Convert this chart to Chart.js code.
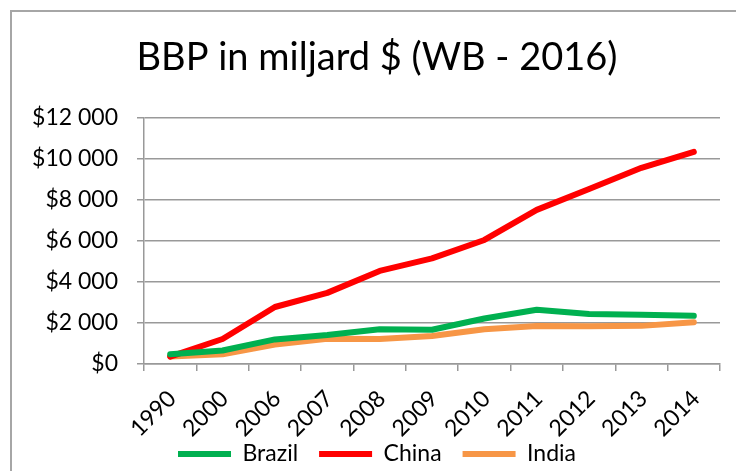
<!DOCTYPE html>
<html>
<head>
<meta charset="utf-8">
<script src="https://cdn.jsdelivr.net/npm/chart.js@4/dist/chart.umd.min.js"></script>
<style>
    html, body { margin: 0; padding: 0; background: #fff; }
    #wrap { position: relative; width: 736px; height: 471px; overflow: hidden; }
    #frame {
        position: absolute; left: 10px; top: 10px; width: 800px; height: 500px;
        border-left: 2px solid #a6a6a6; border-top: 2px solid #a6a6a6;
    }
    #myChart { position: absolute; left: 0; top: 0; }
</style>
</head>
<body>
<div id="wrap">
    <div id="frame"></div>
    <canvas id="myChart" width="736" height="471"></canvas>
</div>
<script>

const years = ['1990', '2000', '2006', '2007', '2008', '2009', '2010', '2011', '2012', '2013', '2014'];
const brazil = [470, 660, 1200, 1410, 1690, 1670, 2220, 2650, 2440, 2400, 2350];
const china = [360, 1220, 2780, 3470, 4540, 5150, 6050, 7520, 8540, 9570, 10350];
const india = [370, 470, 950, 1230, 1220, 1370, 1700, 1850, 1840, 1860, 2040];
const yTicks = [0, 2000, 4000, 6000, 8000, 10000, 12000];

const FONT = 'Lato';
const PAD_LEFT = 34;

function money(v) {
    // $12 000 style
    return '$' + String(v).replace(/\B(?=(\d{3})+(?!\d))/g, ' ');
}

function makeSet(label, data, color) {
    return {
        label: label,
        data: data,
        borderColor: color,
        backgroundColor: color,
        borderWidth: 6,
        pointRadius: 0,
        tension: 0,
        borderCapStyle: 'round',
        borderJoinStyle: 'round'
    };
}

// tick labels may spill outside their scale box, don't clip them
function noLabelClip(scale) {
    scale._computeLabelArea = () => undefined;
}

const ctx = document.getElementById('myChart');

new Chart(ctx, {
    type: 'line',
    data: {
        labels: years,
        datasets: [
            makeSet('Brazil', brazil, '#00b050'),
            makeSet('China', china, '#ff0000'),
            makeSet('India', india, '#f79646')
        ]
    },
    options: {
        responsive: false,
        animation: false,
        layout: { padding: { left: PAD_LEFT, right: 16, top: 0, bottom: -4.5 } },
        plugins: {
            title: {
                display: true,
                text: 'BBP in miljard $ (WB - 2016)',
                color: '#000',
                font: { family: FONT, size: 38, weight: 'normal' },
                padding: { top: 35, bottom: 37.4 }
            },
            legend: {
                position: 'bottom',
                labels: {
                    color: '#000',
                    font: { family: FONT, size: 23 },
                    boxWidth: 53,
                    boxHeight: 6,
                    padding: 21,
                    // plain filled bars, no outline around the swatch
                    generateLabels: (chart) => Chart.defaults.plugins.legend.labels.generateLabels(chart)
                        .map(item => ({ ...item, lineWidth: 0 }))
                }
            },
            tooltip: { enabled: false }
        },
        scales: {
            x: {
                offset: true,
                grid: {
                    offset: true,
                    drawOnChartArea: false,
                    drawTicks: true,
                    tickLength: 7,
                    color: '#999',
                    lineWidth: 1.5
                },
                border: { color: '#999', width: 1.5 },
                ticks: {
                    color: '#000',
                    font: { family: FONT, size: 23 },
                    minRotation: 45,
                    maxRotation: 45,
                    padding: 14,
                    labelOffset: 2
                },
                afterFit: (scale) => { scale.height = 57.5; noLabelClip(scale); }
            },
            y: {
                min: 0,
                max: 12000,
                afterBuildTicks: (scale) => { scale.ticks = yTicks.map(v => ({ value: v })); },
                grid: {
                    color: '#999',
                    lineWidth: 1.5,
                    tickLength: 7
                },
                border: { color: '#999', width: 1.5 },
                ticks: {
                    color: '#000',
                    font: { family: FONT, size: 23 },
                    padding: 19,
                    callback: (v) => money(v)
                },
                afterFit: (scale) => { scale.width = 144 - PAD_LEFT; noLabelClip(scale); }
            }
        }
    }
});
</script>
</body>
</html>
